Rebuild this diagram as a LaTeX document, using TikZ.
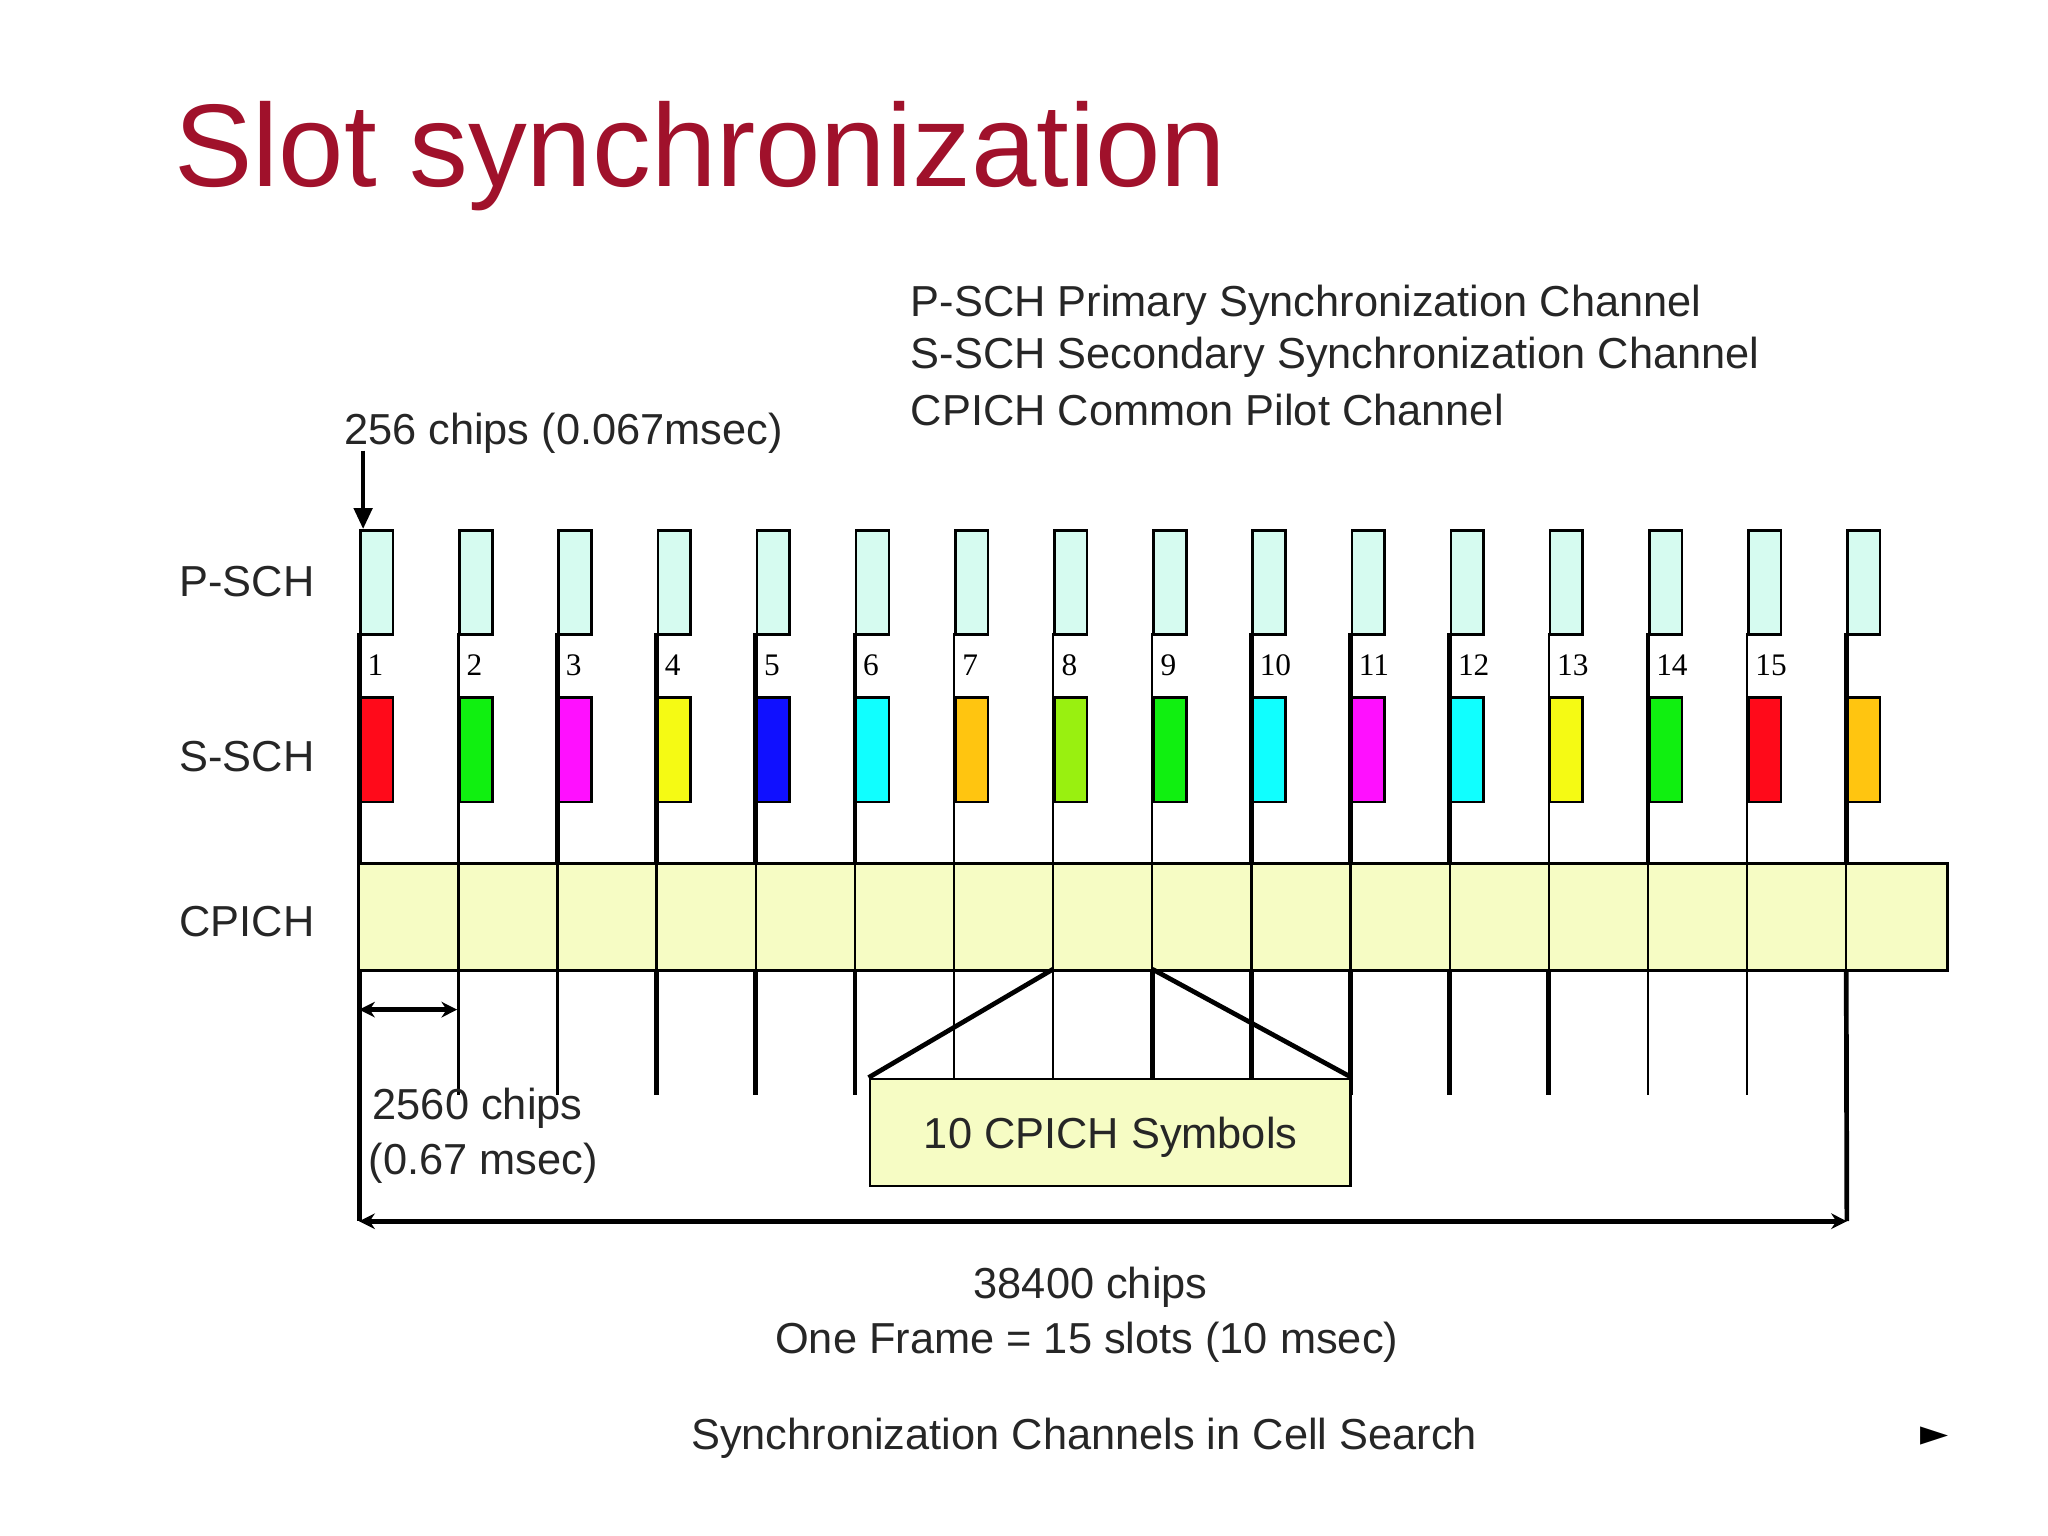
\documentclass[tikz,border=0pt]{standalone}
\usepackage{fontspec}
\setmainfont{Liberation Sans}
\newfontfamily\numfont{Liberation Serif}
\usetikzlibrary{arrows.meta}
\definecolor{titlered}{HTML}{A0112B}
\definecolor{pschfill}{HTML}{D6FBF0}
\definecolor{cpichfill}{HTML}{F6FCC4}
\definecolor{cmag}{HTML}{FF10FF}
\definecolor{ccyan}{HTML}{10FFFF}
\definecolor{corange}{HTML}{FFC510}
\definecolor{clime}{HTML}{99F010}
\definecolor{cgreen}{HTML}{10F010}
\definecolor{cred}{HTML}{FF0A1A}
\definecolor{cyel}{HTML}{F5FA14}
\definecolor{cblue}{HTML}{1010FF}
\tikzset{
  lbl/.style={anchor=base west,inner sep=0pt,font=\fontsize{16.6}{19}\selectfont,text=black!85},
  pbox/.style={draw,line width=1pt,fill=pschfill,minimum width=12.5pt,minimum height=40pt,inner sep=0pt,anchor=north west},
  sbox/.style={draw,line width=1pt,minimum width=12.5pt,minimum height=40pt,inner sep=0pt,anchor=north west},
  num/.style={anchor=base west,inner sep=0pt,font=\numfont\fontsize{12}{13}\selectfont},
  thinl/.style={line width=0.9pt},
  thickl/.style={line width=1.8pt}
}
\begin{document}
\begin{tikzpicture}[x=0.5pt,y=-0.5pt]
\useasboundingbox (0,0) rectangle (1568,1176);
\node[anchor=base west,inner sep=0pt,text=titlered,font=\fontsize{45}{50}\selectfont] (title) at (133,143) {Slot synchronization};
\node[lbl] (l1) at (697,242) {P-SCH Primary Synchronization Channel};
\node[lbl] (l2) at (697,282) {S-SCH Secondary Synchronization Channel};
\node[lbl] (l3) at (697,326) {CPICH Common Pilot Channel};
\node[lbl] (c256) at (263,340) {256 chips (0.067msec)};
\node[lbl] (lp) at (137,457) {P-SCH};
\node[lbl] (ls) at (137,591) {S-SCH};
\node[lbl] (lc) at (137,717) {CPICH};
% CPICH band
\node[draw,line width=1pt,fill=cpichfill,anchor=north west,minimum width=608.5pt,minimum height=41pt,inner sep=0pt] (cpich) at (273,660) {};
% slots
\foreach \i/\c/\ut in {1/cred/thickl,2/cgreen/thinl,3/cmag/thickl,4/cyel/thickl,5/cblue/thickl,
  6/ccyan/thickl,7/corange/thinl,8/clime/thinl,9/cgreen/thinl,10/ccyan/thickl,
  11/cmag/thickl,12/ccyan/thickl,13/cyel/thinl,14/cgreen/thickl,15/cred/thinl,16/corange/thickl}{
  \pgfmathsetmacro\xx{275+75.9*(\i-1)}
  \node[pbox] (p\i) at (\xx,405) {};
  \node[sbox,fill=\c] (s\i) at (\xx,533) {};
  \coordinate (u\i) at (\xx,485);
  \coordinate (m\i) at (\xx,660);
  \coordinate (b\i) at (\xx,742);
  \coordinate (e\i) at (\xx,838);
  \draw[\ut] (u\i) -- (m\i);
  \draw[thinl] (m\i) -- (b\i);
  \ifnum\i<16 \node[num] (n\i) at ([xshift=3pt]\xx,517) {\i}; \fi
}
\foreach \i/\lt in {2/thinl,3/thinl,4/thickl,5/thickl,6/thickl,7/thinl,8/thinl,9/thickl,10/thickl,11/thickl,12/thickl,13/thickl,14/thinl,15/thinl}{
  \draw[\lt] (b\i) -- (e\i);
}
\coordinate (f1) at (275,935);
\coordinate (f16) at (1414,935);
\draw[thickl] (b1) -- (f1);
\draw[thickl] (b16) -- (f16);
\coordinate (arrs) at (278,345);
\draw[line width=1.5pt,-{Triangle[length=8pt,width=7pt]}] (arrs) -- (arrs |- p1.north);
% 2560 arrow
\coordinate (d1) at (275,773);
\coordinate (d2) at (350,773);
\draw[line width=1.8pt,{Stealth[length=6pt,width=6pt]}-{Stealth[length=6pt,width=6pt]}] (d1) -- (d2);
\node[lbl] (c2560) at (285,857) {2560 chips};
\node[lbl] (c067) at (282,899) {(0.67 msec)};
% symbols box
\node[draw,line width=1pt,fill=cpichfill,anchor=north west,minimum width=184pt,minimum height=41pt,inner sep=0pt] (sym) at (665,825) {};
\node[lbl] (symt) at (707,879) {10 CPICH Symbols};
\draw[line width=1.8pt] (sym.north west) -- (b8);
\draw[line width=1.8pt] (b9) -- (sym.north east);
% frame arrow
\draw[line width=1.8pt,{Stealth[length=6pt,width=6pt]}-{Stealth[length=6pt,width=6pt]}] (f1) -- (f16);
\node[lbl,anchor=base] (c384) at (835,994) {38400 chips};
\node[lbl,anchor=base] (frame) at (832,1036) {One Frame = 15 slots (10 msec)};
\node[lbl,anchor=base] (cap) at (830,1110) {Synchronization Channels in Cell Search};
\node[anchor=base,inner sep=0pt,font=\fontsize{14}{16}\selectfont] (tri) at (1481,1107) {\fontspec{DejaVu Sans}►};
\end{tikzpicture}
\end{document}
